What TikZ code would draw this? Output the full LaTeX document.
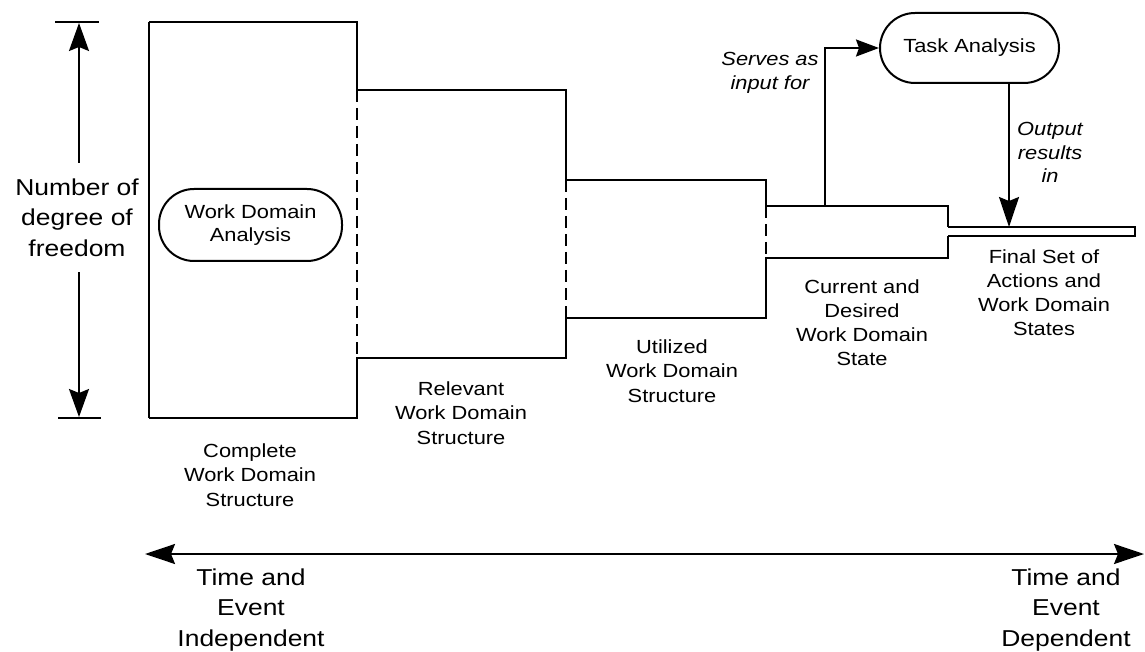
\documentclass[tikz,border=0pt]{standalone}
\usepackage{fontspec}
\setmainfont{Liberation Sans}[FakeStretch=1.15]
\usetikzlibrary{arrows.meta}
\begin{document}
\begin{tikzpicture}[x=1pt,y=-1pt,
  outline/.style={line width=2.9pt, line join=miter},
  thinedge/.style={line width=1.9pt},
  dashedge/.style={line width=2pt, dash pattern=on 12pt off 6pt},
  lbl/.style={align=center, inner sep=0pt, anchor=north, font=\fontsize{19}{24.5}\selectfont},
  biglbl/.style={align=center, inner sep=0pt, anchor=north, font=\fontsize{23}{30.5}\selectfont},
  itlbl/.style={align=center, inner sep=0pt, anchor=north, font=\fontsize{19}{23.5}\selectfont\itshape},
  arr/.style={line width=2pt, -{Stealth[length=28pt,width=20pt,inset=4pt]}},
  pill/.style={draw, line width=2pt, rounded corners=35pt, inner sep=0pt, align=center,
    font=\fontsize{19}{23}\selectfont}
]
\useasboundingbox (0,0) rectangle (1145,652);

% stepped outline
\draw[thinedge] (149,22) -- (149,418);
\draw[outline] (149,22) -- (357,22) -- (357,90) -- (566,90) -- (566,180) -- (766,180) -- (766,206) -- (948,206) -- (948,227);
\draw[outline] (149,418) -- (357,418) -- (357,358) -- (566,358) -- (566,318) -- (766,318) -- (766,258) -- (948,258) -- (948,236);
\draw[thinedge] (948,227) -- (1135,227) -- (1135,236) -- (948,236);
\draw[dashedge] (357,90) -- (357,358);
\draw[dashedge] (566,180) -- (566,318);
\draw[dashedge] (766,206) -- (766,258);

% degrees of freedom axis
\draw[line width=2.2pt] (55,22) -- (99,22);
\draw[line width=2.2pt] (58,418) -- (101,418);
\node[biglbl] (dof) at (77,178.5) {Number of\\degree of\\freedom};
\coordinate (dofTop) at (79,23);
\coordinate (dofBot) at (79,417);
\coordinate (dofA) at (79,163);
\coordinate (dofB) at (79,272);
\draw[arr] (dofA) -- (dofTop);
\draw[arr] (dofB) -- (dofBot);

% analysis nodes
\node[pill, minimum width=183pt, minimum height=72pt] (wda) at (250.5,225) {Work Domain\\Analysis};
\node[pill, minimum width=179pt, minimum height=70pt] (ta) at (969.5,48) {Task Analysis};

% connectors to and from task analysis
\coordinate (serveStart) at (825,206);
\draw[arr, -{Stealth[length=23pt,width=17pt,inset=3pt]}] (serveStart) |- (ta.west);
\coordinate (outEnd) at (1009,227);
\draw[arr, -{Stealth[length=30pt,width=20pt,inset=4pt]}] (ta.south -| outEnd) -- (outEnd);
\node[itlbl] (serves) at (770,52.5) {Serves as\\input for};
\node[itlbl] (output) at (1050,122.5) {Output\\results\\in};

% stage labels
\node[lbl] (complete) at (250,443.4) {Complete\\Work Domain\\Structure};
\node[lbl] (relevant) at (461,381.4) {Relevant\\Work Domain\\Structure};
\node[lbl] (utilized) at (672,339.4) {Utilized\\Work Domain\\Structure};
\node[lbl, font=\fontsize{19}{24}\selectfont] (current) at (862,279.4) {Current and\\Desired\\Work Domain\\State};
\node[lbl, font=\fontsize{19}{24}\selectfont] (final) at (1044,249.4) {Final Set of\\Actions and\\Work Domain\\States};

% time axis
\coordinate (axL) at (145,554);
\coordinate (axR) at (1144,554);
\draw[line width=2pt, {Stealth[length=30pt,width=20pt,inset=4pt]}-{Stealth[length=30pt,width=20pt,inset=4pt]}] (axL) -- (axR);
\node[biglbl] (indep) at (251,568.5) {Time and\\Event\\Independent};
\node[biglbl] (dep) at (1066,568.5) {Time and\\Event\\Dependent};
\end{tikzpicture}
\end{document}
